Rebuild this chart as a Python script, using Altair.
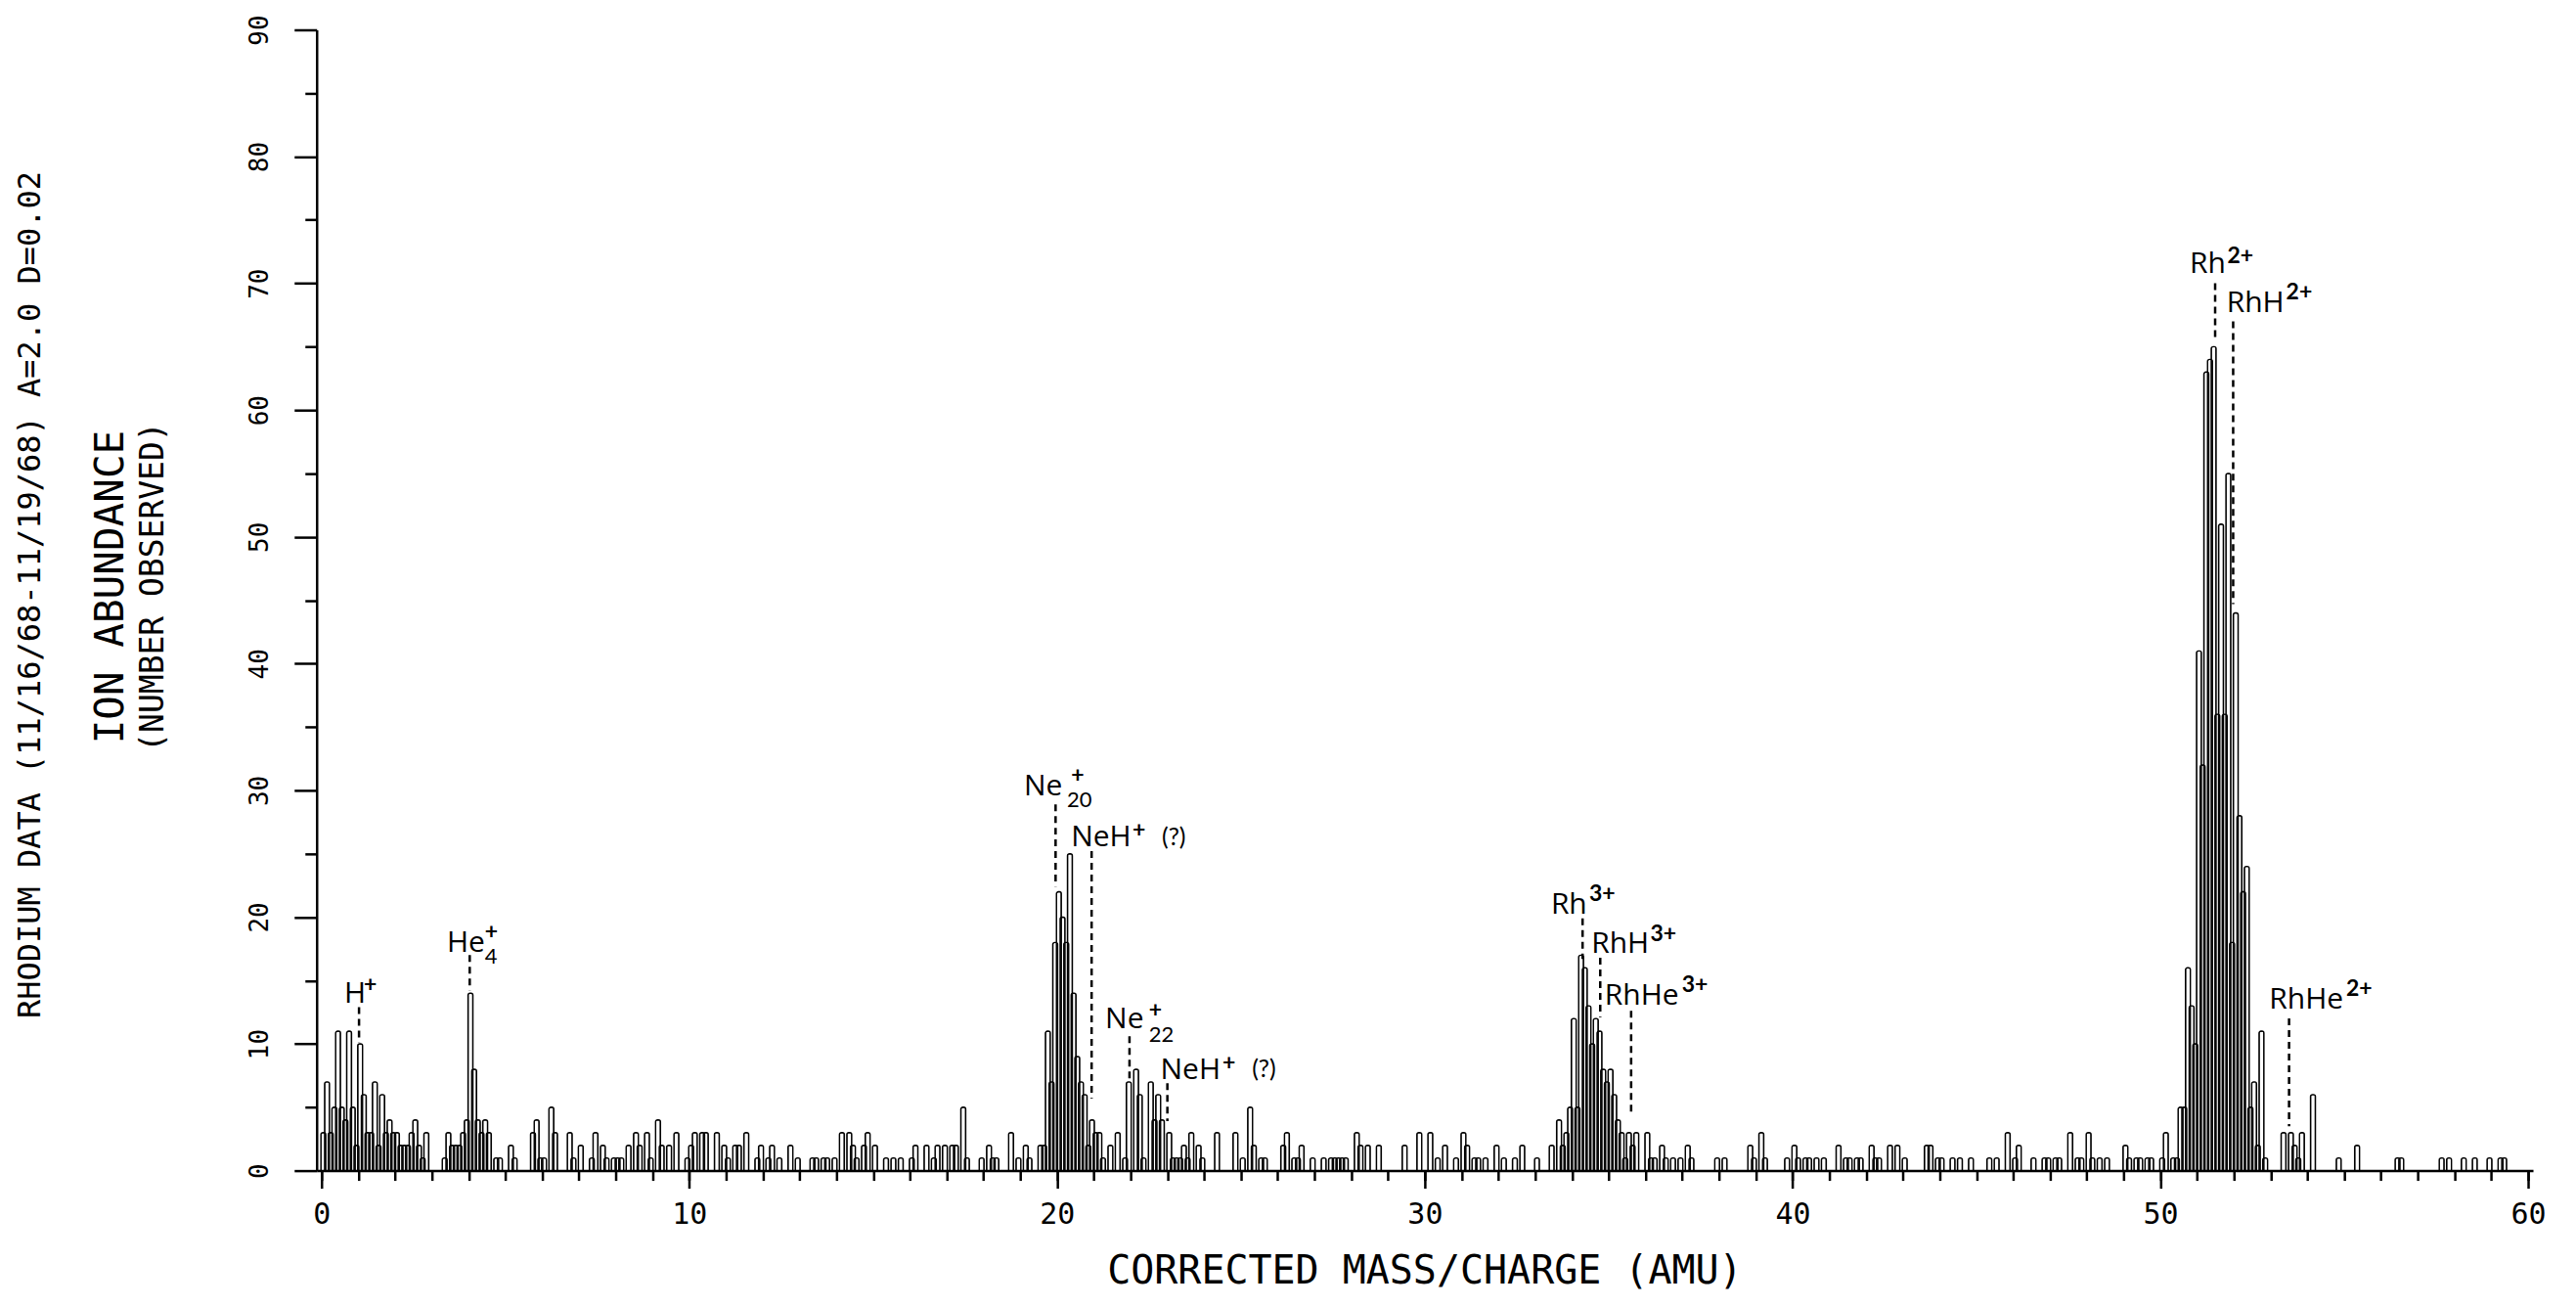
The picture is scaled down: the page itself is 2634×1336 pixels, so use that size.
import altair as alt
import pandas as pd

# ---------------- data ----------------
# histogram bin centres (AMU) and number of ions observed in that bin
mass_amu = [
    0.05, 0.15, 0.25, 0.35, 0.45, 0.55, 0.65, 0.75, 0.85, 0.95, 1.05, 1.15, 1.25, 1.35, 1.45, 1.55, 1.65, 1.75, 1.85, 1.95,
    2.05, 2.15, 2.25, 2.35, 2.45, 2.55, 2.65, 2.75, 2.85,
    3.35, 3.45, 3.55, 3.65, 3.75, 3.85, 3.95, 4.05, 4.15, 4.25, 4.35, 4.45, 4.55, 4.75, 4.85, 5.15, 5.25,
    5.75, 5.85, 5.95, 6.05, 6.25, 6.35, 6.75, 6.85, 7.05,
    7.35, 7.45, 7.65, 7.75, 7.95, 8.05, 8.15, 8.35, 8.55, 8.65, 8.85, 8.95, 9.15, 9.25, 9.45, 9.65,
    9.95, 10.05, 10.15, 10.35, 10.45, 10.75, 10.95, 11.05, 11.25, 11.35, 11.55,
    11.85, 11.95, 12.15, 12.25, 12.45, 12.75, 12.95, 13.35, 13.45, 13.65, 13.75, 13.95, 14.15, 14.35, 14.45, 14.55,
    14.75, 14.85, 15.05, 15.35, 15.55, 15.75, 16.05, 16.15, 16.45, 16.65, 16.75, 16.95, 17.15, 17.25, 17.45, 17.55,
    17.95, 18.15, 18.25, 18.35, 18.75, 18.95, 19.15, 19.25, 19.55, 19.65, 19.75, 19.85, 19.95, 20.05, 20.15, 20.25,
    20.35, 20.45, 20.55, 20.65, 20.75, 20.85, 20.95, 21.05, 21.15, 21.25, 21.45, 21.65, 21.85, 21.95, 22.15, 22.25,
    22.35, 22.55, 22.65, 22.75, 22.85, 23.05, 23.15, 23.25, 23.35, 23.45, 23.55, 23.65, 23.85, 23.95, 24.35, 24.85,
    25.05, 25.25, 25.35, 25.55, 25.65, 26.15, 26.25, 26.45, 26.55, 26.65, 26.95, 27.25, 27.45, 27.55, 27.65, 27.75,
    27.85, 28.15, 28.25,
    28.45, 28.75, 29.45, 29.85, 30.15, 30.35, 30.55, 30.85, 31.05, 31.15, 31.35, 31.45, 31.65, 31.95, 32.15, 32.45,
    32.65, 33.05,
    33.45, 33.65, 33.75, 33.85, 33.95, 34.05, 34.15, 34.25, 34.35, 34.45, 34.55, 34.65, 34.75, 34.85, 34.95, 35.05,
    35.15, 35.25, 35.35, 35.45, 35.55, 35.65, 35.75, 36.05,
    36.15, 36.25, 36.45, 36.55, 36.75, 36.95, 37.15, 37.25, 37.95, 38.15, 38.85, 38.95, 39.15, 39.25, 39.85, 40.05,
    40.15, 40.35, 40.45, 40.65, 40.85, 41.25, 41.45, 41.55, 41.75, 41.85, 42.15, 42.25, 42.35, 42.65, 42.85, 43.05,
    43.65, 43.75, 43.95, 44.05, 44.35, 44.55, 44.85, 45.35, 45.55, 45.85, 46.05, 46.15, 46.55, 46.85,
    46.95, 47.15, 47.25, 47.55, 47.75, 47.85, 48.05, 48.15, 48.35, 48.55, 49.05, 49.15, 49.35, 49.45, 49.65, 49.75,
    50.05, 50.15, 50.35, 50.45,
    50.55, 50.65, 50.75, 50.85, 50.95, 51.05, 51.15, 51.25, 51.35, 51.45, 51.55, 51.65, 51.75, 51.85, 51.95, 52.05,
    52.15, 52.25, 52.35, 52.45, 52.55, 52.65, 52.75, 52.85,
    53.35, 53.55, 53.65, 53.75, 53.85, 54.15, 54.85, 55.35, 56.45, 56.55, 57.65, 57.85, 58.25, 58.55, 58.95, 59.25,
    59.35,
]
ion_count = [
    3, 7, 3, 5, 11, 5, 4, 11, 5, 2, 10, 6, 3, 3, 7, 2, 6, 3, 4, 3,
    3, 2, 2, 2, 3, 4, 2, 1, 3,
    1, 3, 2, 2, 2, 3, 4, 14, 8, 4, 3, 4, 3, 1, 1, 2, 1,
    3, 4, 1, 1, 5, 3, 3, 1, 2,
    1, 3, 2, 1, 1, 1, 1, 2, 3, 2, 3, 1, 4, 2, 2, 3,
    1, 2, 3, 3, 3, 3, 2, 1, 2, 2, 3,
    1, 2, 1, 2, 1, 2, 1, 1, 1, 1, 1, 1, 3, 3, 2, 1,
    2, 3, 2, 1, 1, 1, 1, 2, 2, 1, 2, 2, 2, 2, 5, 1,
    1, 2, 1, 1, 3, 1, 2, 1, 2, 2, 11, 7, 18, 22, 20, 18,
    25, 14, 9, 7, 6, 2, 4, 3, 3, 1, 2, 3, 1, 7, 8, 6,
    1, 7, 4, 6, 4, 3, 1, 1, 1, 2, 1, 3, 2, 1, 3, 3,
    1, 5, 2, 1, 1, 2, 3, 1, 1, 2, 1, 1, 1, 1, 1, 1,
    1, 3, 2,
    2, 2, 2, 3, 3, 1, 2, 1, 3, 2, 1, 1, 1, 2, 1, 1,
    2, 1,
    2, 4, 2, 3, 5, 12, 5, 17, 16, 13, 10, 12, 11, 8, 7, 8,
    6, 4, 3, 1, 3, 2, 3, 3,
    1, 1, 2, 1, 1, 1, 2, 1, 1, 1, 2, 1, 3, 1, 1, 2,
    1, 1, 1, 1, 1, 2, 1, 1, 1, 1, 2, 1, 1, 2, 2, 1,
    2, 2, 1, 1, 1, 1, 1, 1, 1, 3, 1, 2, 1, 1,
    1, 1, 1, 3, 1, 1, 3, 1, 1, 1, 2, 1, 1, 1, 1, 1,
    1, 3, 1, 1,
    5, 5, 16, 13, 10, 41, 32, 63, 64, 65, 36, 51, 36, 55, 18, 44,
    28, 22, 24, 5, 7, 2, 11, 1,
    3, 3, 2, 1, 3, 6, 1, 2, 1, 1, 1, 1, 1, 1, 1, 1,
    1,
]

# peak identifications: main label, its left edge (AMU) and baseline (count)
label_main = ["H", "He", "Ne", "NeH", "Ne", "NeH", "Rh", "RhH", "RhHe", "Rh", "RhH", "RhHe"]
label_x = [0.62, 3.41, 19.1, 20.38, 21.31, 22.81, 33.43, 34.53, 34.89, 50.8, 51.8, 52.96]
label_y = [13.26, 17.25, 29.58, 25.6, 11.2, 7.2, 20.3, 17.2, 13.1, 70.8, 67.7, 12.76]

# charge superscripts
sup_text = ["+", "+", "+", "+", "+", "+", "3+", "3+", "3+", "2+", "2+", "2+"]
sup_x = [1.15, 4.44, 20.38, 22.05, 22.5, 24.5, 34.47, 36.13, 36.99, 51.82, 53.42, 55.05]
sup_y = [14.1, 18.25, 30.6, 26.25, 12.1, 7.95, 21.3, 18.1, 14.1, 71.6, 68.7, 13.8]

# isotope subscripts
sub_text = ["4", "20", "22"]
sub_x = [4.44, 20.27, 22.5]
sub_y = [16.3, 28.65, 10.15]

# "(?)" qualifiers
q_text = ["(?)", "(?)"]
q_x = [22.85, 25.3]
q_y = [25.7, 7.35]

# dashed leader lines: mass, top and bottom (count)
lead_x = [1.02, 4.03, 19.96, 20.94, 21.97, 23.0, 34.29, 34.77, 35.61, 51.49, 51.98, 53.5]
lead_top = [12.9, 17.0, 28.9, 25.2, 10.6, 6.9, 19.9, 16.8, 12.6, 70.0, 67.0, 12.0]
lead_bottom = [10.1, 14.2, 22.4, 5.7, 6.9, 3.9, 16.7, 12.1, 4.6, 65.5, 44.7, 3.5]

x_major = [0, 10, 20, 30, 40, 50, 60]
x_minor = list(range(0, 61))
y_major = [0, 10, 20, 30, 40, 50, 60, 70, 80, 90]
y_minor = [5, 15, 25, 35, 45, 55, 65, 75, 85]

# ---------------- chart ----------------
W, H = 2268, 1167
AX_FONT = "DejaVu Sans Mono"
ANN_FONT = "Open Sans"
SMALL_FONT = "Lato"

bars = pd.DataFrame({"mass": mass_amu, "count": ion_count})
xs = alt.Scale(domain=[0, 60], nice=False, zero=False)
ys = alt.Scale(domain=[0, 90], nice=False)

bar_layer = alt.Chart(bars).mark_bar(
    size=5, fill="white", fillOpacity=0, stroke="black", strokeWidth=1.4,
    cornerRadiusTopLeft=2, cornerRadiusTopRight=2,
).encode(
    x=alt.X("mass:Q", scale=xs, axis=alt.Axis(
        orient="bottom", values=x_major, tickSize=18, tickWidth=2.5, tickColor="black",
        domainColor="black", domainWidth=2.5, labelFont=AX_FONT, labelFontSize=30,
        labelColor="black", labelPadding=12, labelFlush=False, grid=False, title=None)),
    y=alt.Y("count:Q", scale=ys, axis=alt.Axis(
        orient="left", values=y_major, tickSize=23, tickWidth=2.5, tickColor="black",
        domainColor="black", domainWidth=2.5, labelFont=AX_FONT, labelFontSize=26,
        labelColor="black", labelAngle=270, labelAlign="center", labelBaseline="bottom",
        labelPadding=22, labelFlush=False, grid=False, title=None)),
)

minor_layer = alt.Chart(bars).mark_point(opacity=0).encode(
    x=alt.X("mass:Q", scale=xs, axis=alt.Axis(
        orient="bottom", values=x_minor, tickSize=10, tickWidth=2.5, tickColor="black",
        labels=False, domain=False, grid=False, title=None)),
    y=alt.Y("count:Q", scale=ys, axis=alt.Axis(
        orient="left", values=y_minor, tickSize=12, tickWidth=2.5, tickColor="black",
        labels=False, domain=False, grid=False, title=None)),
)

leads = pd.DataFrame({"x": lead_x, "top": lead_top, "bottom": lead_bottom})
lead_layer = alt.Chart(leads).mark_rule(strokeDash=[7, 5], strokeWidth=2.5, color="black").encode(
    x=alt.X("x:Q", scale=xs, axis=None),
    y=alt.Y("top:Q", scale=ys, axis=None),
    y2="bottom:Q",
)


def text_layer(texts, xv, yv, size, font, weight="normal"):
    df = pd.DataFrame({"t": texts, "x": xv, "y": yv})
    return alt.Chart(df).mark_text(
        font=font, fontSize=size, fontWeight=weight, align="left",
        baseline="alphabetic", color="black",
    ).encode(
        x=alt.X("x:Q", scale=xs, axis=None),
        y=alt.Y("y:Q", scale=ys, axis=None),
        text="t:N",
    )


main_layer = text_layer(label_main, label_x, label_y, 30, ANN_FONT)
sup_layer = text_layer(sup_text, sup_x, sup_y, 23, SMALL_FONT, "bold")
sub_layer = text_layer(sub_text, sub_x, sub_y, 22, SMALL_FONT)
q_layer = text_layer(q_text, q_x, q_y, 25, SMALL_FONT)


def title_text(txt, px, py, size, angle=0):
    return alt.Chart(pd.DataFrame({"t": [txt]})).mark_text(
        font=AX_FONT, fontSize=size, angle=angle, align="center", baseline="middle", color="black",
    ).encode(x=alt.value(px), y=alt.value(py), text="t:N")


x_title = title_text("CORRECTED MASS/CHARGE (AMU)", 1134, 1270, 40)
y_title1 = title_text("ION ABUNDANCE", -210, 570, 41, 270)
y_title2 = title_text("(NUMBER OBSERVED)", -167, 570, 33, 270)
run_title = title_text("RHODIUM DATA (11/16/68-11/19/68) A=2.0 D=0.02", -293, 578, 32, 270)

chart = alt.layer(
    bar_layer, minor_layer, lead_layer, main_layer, sup_layer, sub_layer, q_layer,
    x_title, y_title1, y_title2, run_title,
).resolve_axis(
    x="independent", y="independent"
).properties(
    width=W, height=H,
    padding={"left": 316, "top": 22, "right": 36, "bottom": 130},
    autosize=alt.AutoSizeParams(type="none"),
    background="white",
).configure_view(stroke="transparent")

chart.save("out.html", embed_options={"renderer": "svg", "actions": False})
